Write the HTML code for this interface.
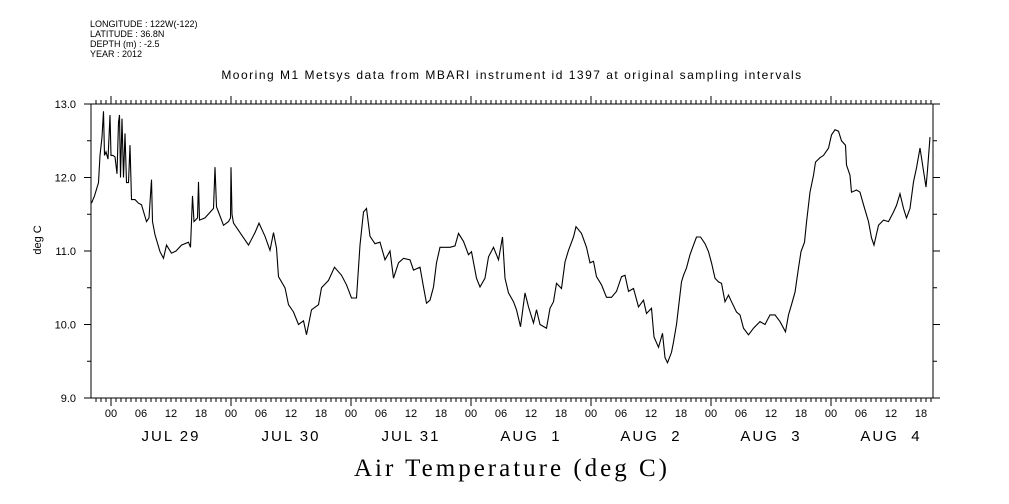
<!DOCTYPE html>
<html><head><meta charset="utf-8">
<style>
html,body{margin:0;padding:0;background:#fff;width:1009px;height:504px;overflow:hidden}
svg text{font-family:"Liberation Sans",sans-serif;fill:#000}
</style></head>
<body>
<svg id="chart" width="1009" height="504" viewBox="0 0 1009 504" xmlns="http://www.w3.org/2000/svg">
<g font-size="9">
<text x="90" y="27">LONGITUDE : 122W(-122)</text>
<text x="90" y="37">LATITUDE : 36.8N</text>
<text x="90" y="47">DEPTH (m) : -2.5</text>
<text x="90" y="57">YEAR : 2012</text>
</g>
<text x="512" y="79" font-size="12" letter-spacing="1.5" text-anchor="middle">Mooring M1 Metsys data from MBARI instrument id 1397 at original sampling intervals</text>
<text x="0" y="0" font-size="11" text-anchor="middle" transform="translate(41,240) rotate(-90)">deg C</text>
<text x="512" y="476" font-size="25" letter-spacing="3" text-anchor="middle" style="font-family:'Liberation Serif',serif">Air Temperature (deg C)</text>
<rect x="91" y="104" width="842" height="294" fill="none" stroke="#000" stroke-width="1"/>
<g id="axes"></g>
<g id="series"></g>
</svg>
<script>
// hours relative to JUL 29 00:00
const times = [-3.9,-3.3,-2.5,-2.2,-1.8,-1.5,-1.3,-1.0,-0.6,-0.2,0.0,0.4,0.8,1.2,1.5,1.7,1.9,2.2,2.5,2.8,3.1,3.5,3.8,4.1,4.8,5.5,6.1,7.1,7.6,8.1,8.3,8.8,9.8,10.5,11.1,12.1,13,14.1,15.5,15.9,16.1,16.3,16.6,17.3,17.5,17.7,18.8,20.5,20.8,21.1,21.5,22.5,23.5,23.9,24.0,24.2,24.5,26.1,27.5,28.8,29.6,30.8,31.8,32.5,33.1,33.5,34.8,35.5,36.5,37.5,38.5,39.1,40.1,41.5,42.1,43.5,44.7,46.1,47.1,48.1,49.1,49.8,50.5,51.1,51.8,52.8,53.8,54.8,55.8,56.5,57.5,58.5,59.8,60.5,61.8,62.5,63.1,63.8,64.5,65.1,65.8,67.8,68.8,69.5,70.5,71.5,72.1,73.1,73.8,74.8,75.5,76.5,77.5,78.3,78.8,79.5,80.5,81.1,81.9,82.8,83.5,84.5,85.1,85.8,87.1,87.8,88.5,89.1,90.1,90.8,91.5,92.5,93.0,94.1,95.1,95.8,96.5,97.1,98.1,99.1,100.1,101.1,102.1,102.8,103.5,104.5,105.5,106.5,107.1,108.1,108.6,109.5,110.3,110.8,111.3,112.1,112.5,113.1,114.1,114.5,115.1,115.8,116.5,117.1,117.9,118.8,119.5,120.1,120.8,121.5,122.1,122.8,123.5,124.1,125.1,125.8,126.5,127.5,128.5,129.8,130.8,131.8,132.8,133.8,134.9,135.5,136.1,136.8,137.5,138.0,138.7,139.1,139.8,140.5,140.9,141.8,142.5,143.5,144.1,144.8,145.5,146.1,146.9,147.1,147.8,148.1,149.1,149.8,150.5,151.5,152.1,152.6,153.5,154.5,155.5,156.5,157.1,157.8,158.5,159.1,159.8,160.5,161.1,161.8,162.3,163.0,163.3,163.8];
const temps = [11.65,11.75,11.93,12.3,12.55,12.9,12.3,12.35,12.25,12.85,12.3,12.3,12.28,12.05,12.75,12.85,12.0,12.8,12.0,12.6,11.93,11.93,12.44,11.7,11.7,11.65,11.63,11.4,11.45,11.97,11.4,11.22,10.99,10.9,11.08,10.97,11.0,11.08,11.12,11.05,11.4,11.75,11.4,11.45,11.94,11.42,11.45,11.58,12.14,11.6,11.53,11.35,11.4,11.45,12.14,11.5,11.38,11.22,11.08,11.25,11.38,11.2,11.01,11.25,11.04,10.65,10.5,10.27,10.17,10.0,10.05,9.86,10.2,10.27,10.5,10.6,10.78,10.67,10.54,10.36,10.36,11.08,11.53,11.58,11.2,11.1,11.12,10.88,11.0,10.63,10.84,10.9,10.88,10.74,10.78,10.51,10.29,10.33,10.51,10.84,11.05,11.05,11.07,11.24,11.13,10.95,10.99,10.63,10.51,10.63,10.92,11.05,10.88,11.19,10.63,10.43,10.31,10.2,9.97,10.43,10.24,10.02,10.2,10.0,9.95,10.22,10.31,10.56,10.49,10.85,11.01,11.19,11.33,11.24,11.05,10.84,10.86,10.65,10.54,10.37,10.37,10.45,10.65,10.67,10.45,10.49,10.24,10.33,10.15,10.22,9.83,9.69,9.88,9.55,9.48,9.62,9.76,10.0,10.58,10.67,10.77,10.95,11.08,11.19,11.19,11.1,10.99,10.84,10.63,10.58,10.56,10.31,10.4,10.31,10.17,10.13,9.95,9.86,9.95,10.04,10.0,10.13,10.13,10.04,9.9,10.13,10.27,10.44,10.77,10.99,11.12,11.39,11.8,12.03,12.21,12.27,12.3,12.4,12.58,12.65,12.63,12.5,12.44,12.17,12.03,11.8,11.83,11.8,11.63,11.4,11.18,11.08,11.35,11.42,11.4,11.53,11.62,11.78,11.58,11.45,11.58,11.94,12.13,12.4,12.18,11.87,12.1,12.55];
const yTickValues = [9.0,10.0,11.0,12.0,13.0];
const yTickLabels = ["9.0","10.0","11.0","12.0","13.0"];
const hourLabels = ["00","06","12","18"];
const dayLabels = ["JUL 29","JUL 30","JUL 31","AUG  1","AUG  2","AUG  3","AUG  4"];

const NS="http://www.w3.org/2000/svg";
const X0=91,X1=933,Y0=104,Y1=398;
const H0=-4, HPX=5;
function xs(h){return X0+(h-H0)*HPX;}
function ys(v){return Y1-(v-9)*(Y1-Y0)/4;}
const axes=document.getElementById('axes');
function mk(tag,attrs,parent){const e=document.createElementNS(NS,tag);for(const k in attrs)e.setAttribute(k,attrs[k]);parent.appendChild(e);return e;}

yTickValues.forEach((v,i)=>{
  const y=ys(v);
  const t=mk('line',{x1:84,x2:91,y1:y,y2:y,stroke:'#000'},axes);
  
  
  const r=mk('line',{x1:933,x2:940,y1:y,y2:y,stroke:'#000'},axes);
  
  
  const lb=mk('text',{x:76,y:y+4,'font-size':11,'text-anchor':'end'},axes);
  lb.textContent=yTickLabels[i];
  
  
  if(i<yTickValues.length-1){
    const ym=ys(v+0.5);
    const m1=mk('line',{x1:87,x2:91,y1:ym,y2:ym,stroke:'#000'},axes);
    
    
    const m2=mk('line',{x1:933,x2:937,y1:ym,y2:ym,stroke:'#000'},axes);
    
    
  }
});
for(let h=-3;h<=164;h++){
  const x=xs(h);
  const major=(h%24===0);
  const len=major?8:4;
  const b=mk('line',{x1:x,x2:x,y1:Y1,y2:Y1+len,stroke:'#000'},axes);
  
  
  const t=mk('line',{x1:x,x2:x,y1:Y0,y2:Y0-len,stroke:'#000'},axes);
  
  
  if(((h%6)+6)%6===0){
    const lb=mk('text',{x:x,y:417,'font-size':11,'text-anchor':'middle'},axes);
    lb.textContent=hourLabels[(((h%24)+24)%24)/6];
    
    
  }
}
dayLabels.forEach((d,i)=>{
  const lb=mk('text',{x:xs(i*24+12),y:441,'font-size':15,'letter-spacing':2,'text-anchor':'middle'},axes);
  lb.style.whiteSpace='pre';
  lb.textContent=d;
  
  
});
const pts=times.map((h,i)=>xs(h).toFixed(1)+','+ys(temps[i]).toFixed(1)).join(' ');
const line=mk('polyline',{points:pts,fill:'none',stroke:'#000','stroke-width':1.1},document.getElementById('series'));


</script>
</body></html>
